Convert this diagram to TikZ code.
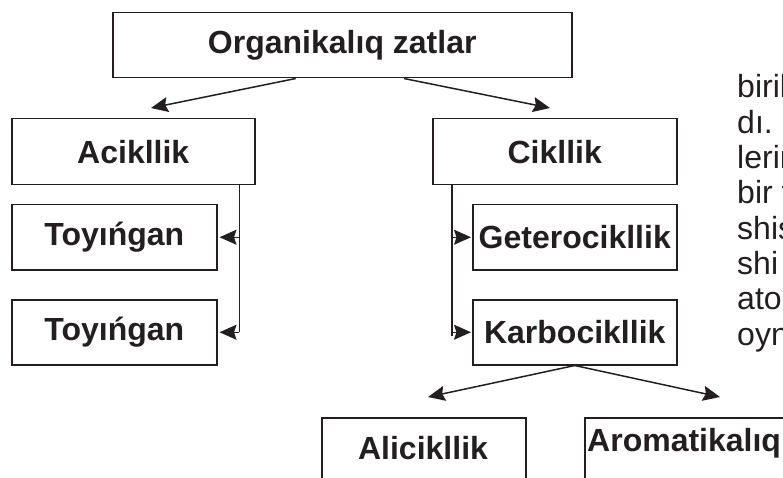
\documentclass[tikz,border=0pt]{standalone}
\usepackage{fontspec}
\setmainfont{Liberation Sans}
\usetikzlibrary{arrows.meta,calc}
\definecolor{ink}{HTML}{231F20}

\begin{document}
\begin{tikzpicture}[x=1pt,y=-1pt,
  box/.style={draw=ink, line width=1.5pt, inner sep=0pt, anchor=north west},
  lbl/.style={text=ink, font=\bfseries\fontsize{32}{36}\selectfont, inner sep=0pt},
  link/.style={draw=ink, line width=1.5pt},
  arr/.style={link, -{Stealth[length=17pt,width=15pt,inset=2.5pt]}},
  body/.style={text=ink, font=\fontsize{32}{35}\selectfont, anchor=base west, inner sep=0pt}]

  \useasboundingbox (0,0) rectangle (783,478);
  \clip (0,0) rectangle (783,478);

  % classification boxes
  \node[box, lbl, minimum width=459pt, minimum height=65pt] (org)  at (112,12)  {Organikalıq zatlar};
  \node[box, lbl, minimum width=243pt, minimum height=66pt] (acik) at (11,118)  {Acikllik};
  \node[box, lbl, minimum width=244pt, minimum height=66pt] (cik)  at (432,118) {Cikllik};
  \node[box, lbl, minimum width=205pt, minimum height=65pt] (toyA) at (11,204)  {Toyıńgan};
  \node[box, lbl, minimum width=205pt, minimum height=65pt] (toyB) at (11,299)  {Toyıńgan};
  \node[box, lbl, minimum width=204pt, minimum height=65pt] (get)  at (472,204) {Geterocikllik};
  \node[box, lbl, minimum width=204pt, minimum height=65pt] (karb) at (472,299) {Karbocikllik};

  % lower boxes run past the page edge
  \node[box, minimum width=204pt, minimum height=80pt] (alibox) at (321,417) {};
  \node[box, minimum width=260pt, minimum height=80pt] (arobox) at (584,417) {};
  \node[lbl] (ali) at (423,448) {Alicikllik};
  \node[lbl, anchor=west] (aro) at (587,443) {Aromatikalıq};

  % branching from the top box
  \coordinate (orgL) at ($(org.south west)!0.399!(org.south east)$);
  \coordinate (orgR) at ($(org.south west)!0.634!(org.south east)$);
  \coordinate (acikTip) at (151,108);
  \coordinate (cikTip)  at (550,108);
  \draw[arr] (orgL) -- (acikTip);
  \draw[arr] (orgR) -- (cikTip);

  % acyclic branch
  \coordinate (acDrop) at ($(acik.south west)!0.934!(acik.south east)$);
  \draw[link] (acDrop) -- (acDrop |- toyB.east);
  \draw[arr, shorten >=2pt] (acDrop |- toyA.east) -- (toyA.east);
  \draw[arr, shorten >=2pt] (acDrop |- toyB.east) -- (toyB.east);

  % cyclic branch
  \coordinate (cikDrop) at ($(cik.south west)!0.082!(cik.south east)$);
  \draw[link] (cikDrop) -- ([yshift=-4pt]cikDrop |- karb.west);
  \draw[arr, shorten >=1pt] (cikDrop |- get.west) -- (get.west);
  \draw[arr, shorten >=1pt] (cikDrop |- karb.west) -- (karb.west);

  % carbocyclic split
  \coordinate (aliTip) at (428,397);
  \coordinate (aroTip) at (720,397);
  \draw[arr] (karb.south) -- (aliTip);
  \draw[arr] (karb.south) -- (aroTip);

  % running text at the right edge
  \node[body] (w1) at (737,98)    {birilk};
  \node[body] (w2) at (737,133.3) {dı. U};
  \node[body] (w3) at (737,168.6) {lerin};
  \node[body] (w4) at (737,203.9) {bir t};
  \node[body] (w5) at (737,239.2) {shis};
  \node[body] (w6) at (737,274.5) {shi};
  \node[body] (w7) at (737,309.8) {ator};
  \node[body] (w8) at (737,345.1) {oyn};
\end{tikzpicture}
\end{document}
